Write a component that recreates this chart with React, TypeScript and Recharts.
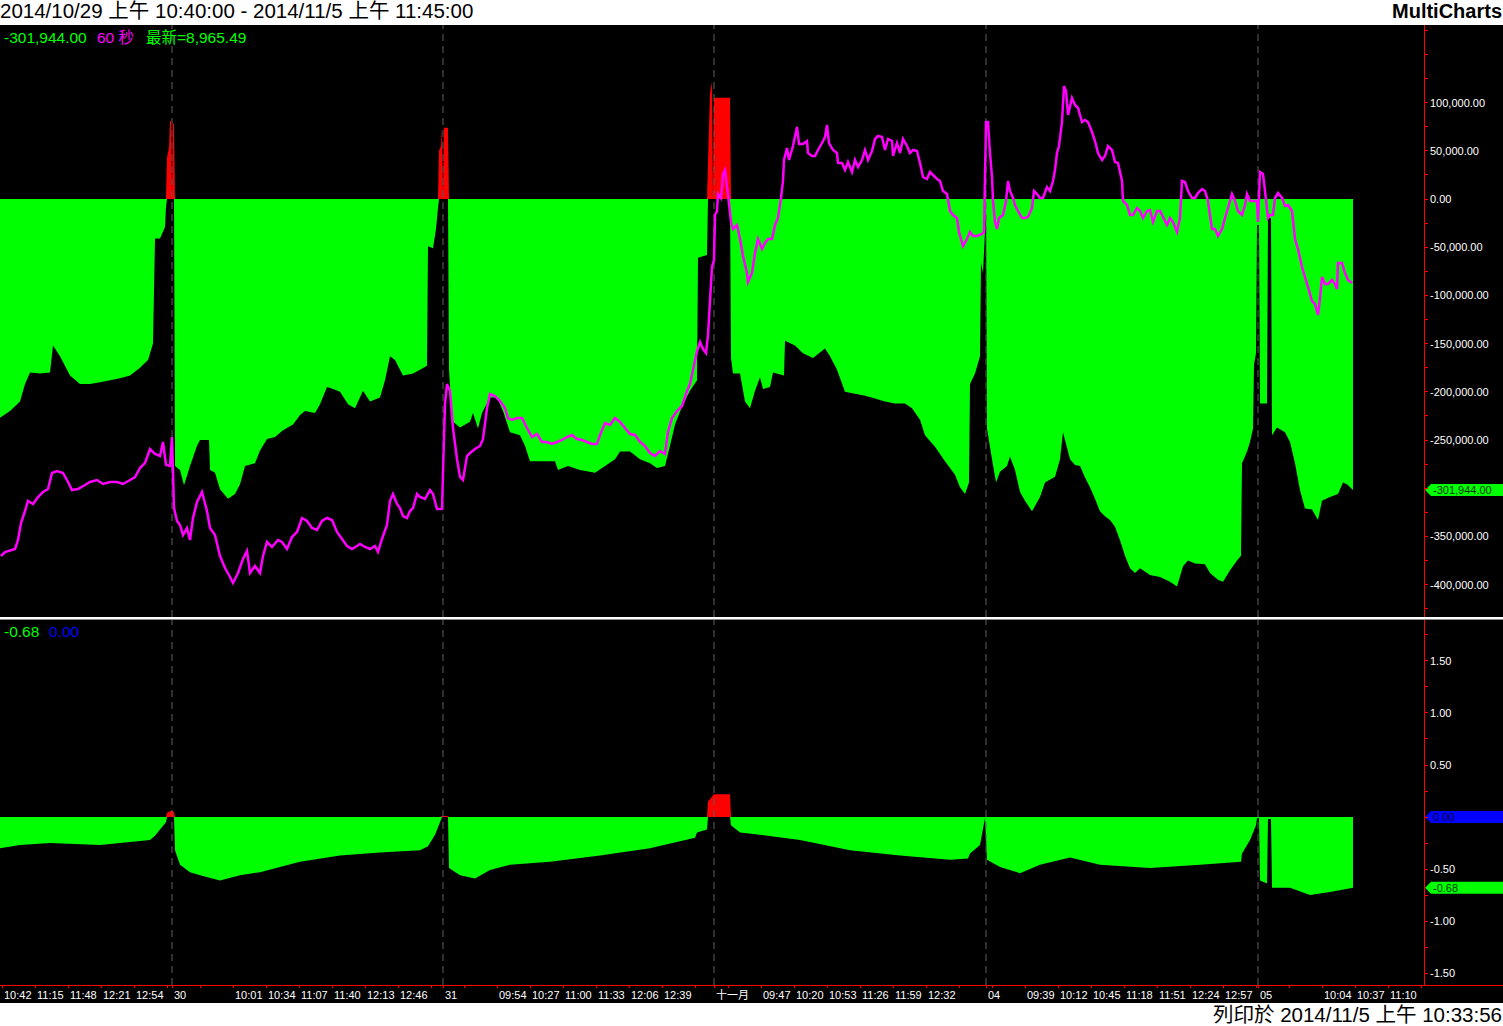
import { ComposedChart, Area, Line, XAxis, YAxis, ReferenceLine } from "recharts";

// bar = 1-minute bar number counted from 10/29 10:40 (session 09:00-13:30)
const flowSeries: [number, number][] = [
  [0, -227000], [10, -220000], [20, -210000], [25, -192000], [30, -180000], [40, -181000], [50, -180000],
  [53, -152000], [60, -163000], [70, -183000], [80, -192000], [90, -192000], [100, -190000], [110, -188000],
  [120, -186000], [130, -183000], [140, -175000], [148, -167000], [153, -150000], [155, -41000], [160, -41000],
  [165, -29000], [166, -8000], [167, 43000], [169, 53000], [170, 81000], [171, 81000], [172, 0], [173, 78000],
  [174, 78000], [175, -277000], [180, -281000], [184, -297000], [190, -277000], [197, -256000], [200, -250000],
  [209, -250000], [210, -281000], [215, -284000], [220, -301000], [228, -311000], [235, -306000], [240, -296000],
  [245, -277000], [255, -274000], [260, -261000], [267, -249000], [275, -247000], [283, -240000], [293, -234000],
  [300, -224000], [305, -220000], [315, -222000], [320, -213000], [327, -195000], [333, -197000], [340, -200000],
  [348, -213000], [355, -217000], [363, -199000], [370, -210000], [380, -206000], [385, -188000], [390, -163000],
  [395, -167000], [403, -183000], [413, -181000], [420, -177000], [427, -173000], [428, -49000], [433, -51000],
  [436, -31000], [438, -9000], [439, 50000], [441, 55000], [442, 75000], [443, 0], [444, 74000], [448, 74000],
  [449, -177000], [451, -213000], [453, -231000], [460, -237000], [470, -231000], [473, -222000], [478, -238000],
  [482, -222000], [490, -206000], [497, -206000], [503, -220000], [510, -242000], [520, -245000], [525, -256000],
  [530, -272000], [555, -272000], [558, -281000], [568, -277000], [580, -281000], [595, -284000], [605, -277000],
  [615, -270000], [620, -262000], [630, -262000], [640, -270000], [650, -274000], [657, -279000], [665, -277000],
  [670, -256000], [675, -234000], [683, -213000], [690, -199000], [697, -188000], [698, -61000], [707, -58000],
  [708, 37000], [710, 110000], [712, 121000], [713, 0], [714, 105000], [730, 105000], [731, -165000],
  [733, -181000], [740, -181000], [745, -210000], [750, -217000], [755, -199000], [760, -185000], [763, -197000],
  [770, -195000], [773, -180000], [784, -183000], [785, -147000], [795, -152000], [803, -160000], [813, -165000],
  [825, -155000], [830, -163000], [837, -177000], [845, -200000], [855, -202000], [865, -204000], [875, -207000],
  [885, -210000], [895, -212000], [905, -212000], [912, -217000], [920, -229000], [925, -245000], [935, -257000],
  [945, -272000], [955, -286000], [960, -299000], [965, -306000], [969, -294000], [970, -192000], [975, -181000],
  [980, -163000], [981, -66000], [983, -77000], [985, -34000], [986, -5000], [987, -238000], [992, -270000],
  [996, -294000], [1000, -283000], [1007, -277000], [1010, -267000], [1015, -281000], [1020, -304000],
  [1025, -313000], [1032, -324000], [1040, -309000], [1045, -294000], [1055, -288000], [1060, -270000],
  [1063, -242000], [1068, -262000], [1070, -270000], [1075, -276000], [1080, -277000], [1085, -289000],
  [1090, -299000], [1095, -311000], [1100, -324000], [1105, -329000], [1110, -333000], [1115, -340000],
  [1120, -354000], [1125, -370000], [1130, -383000], [1135, -388000], [1140, -383000], [1150, -390000],
  [1160, -392000], [1170, -397000], [1177, -402000], [1183, -381000], [1188, -375000], [1195, -378000],
  [1205, -379000], [1210, -388000], [1218, -395000], [1223, -397000], [1230, -385000], [1237, -375000],
  [1241, -370000], [1242, -274000], [1247, -262000], [1250, -252000], [1253, -238000], [1254, -172000],
  [1256, -160000], [1257, -27000], [1259, -27000], [1260, -212000], [1267, -212000], [1268, -20000],
  [1271, -20000], [1272, -245000], [1277, -237000], [1285, -242000], [1290, -252000], [1295, -274000],
  [1300, -302000], [1305, -321000], [1312, -322000], [1318, -333000], [1322, -313000], [1330, -309000],
  [1338, -306000], [1343, -294000], [1347, -296000], [1353, -301944],
];

const priceSeries: [number, number][] = [
  [1, 8829], [5, 8831], [15, 8832.5], [18, 8837], [21, 8845.5], [25, 8851.5], [28, 8856.5], [33, 8855],
  [38, 8858.5], [43, 8861], [48, 8862.5], [52, 8870.5], [57, 8871.5], [63, 8870.5], [68, 8866], [72, 8862],
  [78, 8862.5], [85, 8864.5], [90, 8866], [97, 8867], [103, 8865], [110, 8866], [117, 8866], [123, 8865],
  [130, 8867], [135, 8868.5], [140, 8873], [145, 8875.5], [150, 8882.5], [155, 8880], [160, 8879],
  [163, 8886], [166, 8874.5], [170, 8874], [172, 8888.5], [174, 8853], [177, 8846.5], [180, 8844.5],
  [183, 8839.5], [187, 8843], [190, 8837], [193, 8848], [197, 8856], [202, 8861], [207, 8851.5], [210, 8843],
  [215, 8839.5], [220, 8829], [225, 8823], [230, 8818.5], [233, 8815.5], [238, 8820.5], [243, 8827.5],
  [247, 8831.5], [250, 8820.5], [255, 8824], [260, 8820.5], [263, 8829], [267, 8836], [272, 8833.5],
  [278, 8837], [282, 8836], [287, 8832.5], [292, 8838.5], [297, 8841], [302, 8848], [307, 8846.5],
  [312, 8843], [317, 8842], [322, 8846.5], [327, 8848], [332, 8847], [337, 8841], [342, 8837.5], [347, 8834],
  [352, 8832.5], [357, 8834], [360, 8835], [365, 8833.5], [370, 8832.5], [375, 8834], [378, 8831],
  [382, 8837.5], [387, 8844.5], [390, 8856.5], [393, 8860], [397, 8855], [400, 8853], [403, 8849],
  [407, 8848], [410, 8851.5], [413, 8853], [417, 8860], [420, 8858.5], [425, 8857.5], [430, 8862],
  [433, 8860], [437, 8852.5], [442, 8852.5], [443, 8870.5], [445, 8905], [447, 8915], [450, 8911.5],
  [453, 8893], [457, 8877.5], [460, 8868.5], [463, 8867], [467, 8879], [470, 8880.5], [475, 8882.5],
  [480, 8884], [483, 8887.5], [487, 8903], [490, 8910], [495, 8909], [500, 8906.5], [505, 8903], [508, 8898],
  [512, 8897], [517, 8898], [522, 8898], [527, 8893], [532, 8888.5], [537, 8890], [542, 8886], [547, 8886],
  [552, 8885], [557, 8886], [562, 8887], [567, 8888.5], [572, 8889.5], [577, 8887.5], [582, 8887],
  [587, 8886], [592, 8885], [597, 8885], [600, 8889.5], [605, 8895.5], [610, 8894.5], [615, 8898],
  [620, 8896], [625, 8893], [630, 8890], [635, 8889.5], [640, 8886], [645, 8884], [650, 8880.5], [655, 8879],
  [660, 8881.5], [665, 8880], [668, 8891], [672, 8898], [677, 8901.5], [682, 8904], [687, 8911.5],
  [690, 8915], [693, 8922], [697, 8931.5], [700, 8936], [703, 8932.5], [706, 8930.5], [708, 8939.5],
  [710, 8956.5], [712, 8973.5], [714, 8977], [715, 8999.5], [717, 9001.5], [718, 9010], [721, 9008],
  [723, 9020], [725, 9022], [727, 9013.5], [728, 9010], [731, 8996], [733, 8992.5], [737, 8994.5],
  [740, 8987.5], [743, 8979], [747, 8970.5], [748, 8966], [752, 8970.5], [755, 8980.5], [758, 8987.5],
  [762, 8982.5], [765, 8985.5], [768, 8987.5], [772, 8987.5], [775, 8994.5], [778, 8998], [781, 9008],
  [783, 9016.5], [784, 9027], [787, 9033], [789, 9027], [793, 9034], [797, 9043.5], [799, 9035], [803, 9035],
  [807, 9036.5], [808, 9030.5], [812, 9029], [815, 9029], [818, 9032], [822, 9035.5], [825, 9038.5],
  [827, 9044.5], [829, 9035.5], [833, 9032], [837, 9030.5], [838, 9025.5], [842, 9025.5], [845, 9022],
  [848, 9026], [852, 9021], [855, 9027], [858, 9023.5], [862, 9027], [865, 9032], [868, 9027], [872, 9031.5],
  [875, 9037.5], [878, 9039], [882, 9038.5], [885, 9032], [888, 9037.5], [892, 9036.5], [893, 9029],
  [897, 9035.5], [900, 9030.5], [903, 9037.5], [907, 9034], [910, 9030.5], [913, 9032], [917, 9031.5],
  [920, 9025.5], [923, 9018.5], [927, 9017.5], [930, 9021], [933, 9019.5], [937, 9017.5], [940, 9016.5],
  [943, 9011.5], [947, 9010], [950, 9001.5], [953, 8999.5], [957, 8998], [959, 8991], [963, 8984],
  [967, 8987.5], [970, 8991], [973, 8989], [977, 8989], [982, 8990], [984, 8991], [986, 9046], [988, 9046],
  [990, 9030.5], [992, 9018.5], [993, 9006.5], [995, 8996], [997, 8992.5], [999, 8998], [1003, 8999.5],
  [1006, 9006.5], [1008, 9016.5], [1010, 9011.5], [1013, 9008], [1015, 9004.5], [1018, 9001.5], [1022, 8998],
  [1025, 8998], [1028, 8998.5], [1032, 9003], [1034, 9011.5], [1037, 9010], [1040, 9008], [1043, 9008],
  [1047, 9013.5], [1050, 9011.5], [1053, 9016.5], [1055, 9022], [1057, 9030.5], [1059, 9034], [1062, 9046],
  [1064, 9064], [1066, 9061.5], [1068, 9049.5], [1072, 9058], [1075, 9054.5], [1078, 9053], [1082, 9046],
  [1085, 9047], [1088, 9046], [1092, 9041], [1095, 9036.5], [1098, 9030.5], [1102, 9027], [1105, 9029],
  [1108, 9034], [1112, 9032], [1115, 9026], [1118, 9025.5], [1122, 9016.5], [1123, 9006.5], [1127, 9004.5],
  [1130, 8999.5], [1133, 8999.5], [1137, 9003], [1140, 9001.5], [1143, 8998], [1147, 9001.5], [1150, 9002],
  [1153, 8996], [1157, 9001.5], [1160, 9001.5], [1163, 8998.5], [1167, 8994.5], [1170, 8998], [1173, 8996],
  [1177, 8991], [1180, 8998], [1182, 9016.5], [1185, 9016], [1188, 9011.5], [1192, 9008], [1195, 9008],
  [1198, 9010.5], [1202, 9012.5], [1205, 9011.5], [1208, 9006.5], [1212, 8992.5], [1215, 8992.5],
  [1218, 8989], [1222, 8992.5], [1225, 8998], [1228, 9003], [1232, 9010], [1235, 9006.5], [1238, 9001.5],
  [1242, 8999.5], [1245, 9004.5], [1247, 9010], [1250, 9006.5], [1253, 9006.5], [1257, 9006.5], [1258, 8996],
  [1260, 9021], [1263, 9020], [1265, 9011.5], [1268, 8998], [1270, 8999.5], [1273, 8999.5], [1275, 9008],
  [1278, 9010.5], [1282, 9008], [1285, 9004], [1288, 9004.5], [1292, 9001.5], [1295, 8987.5], [1298, 8982.5],
  [1302, 8973.5], [1305, 8968.5], [1308, 8963.5], [1312, 8956.5], [1315, 8955], [1318, 8949.5], [1320, 8958],
  [1322, 8968.5], [1325, 8965], [1328, 8965], [1332, 8967], [1335, 8965], [1337, 8962.5], [1338, 8975.5],
  [1342, 8975.5], [1345, 8970.5], [1348, 8967], [1352, 8965.49],
];

const ratioSeries: [number, number][] = [
  [0, -0.3], [20, -0.27], [50, -0.25], [100, -0.27], [150, -0.22], [155, -0.18], [160, -0.12], [166, -0.05],
  [167, 0.04], [171, 0.06], [174, 0.05], [175, -0.32], [180, -0.46], [190, -0.53], [200, -0.56], [220, -0.61],
  [240, -0.56], [260, -0.53], [300, -0.43], [340, -0.37], [380, -0.34], [420, -0.32], [428, -0.28],
  [435, -0.17], [440, -0.05], [442, 0.01], [448, 0.01], [449, -0.49], [460, -0.56], [475, -0.59], [490, -0.51],
  [510, -0.46], [550, -0.43], [600, -0.37], [650, -0.3], [695, -0.2], [697, -0.15], [707, -0.12], [708, 0.15],
  [714, 0.22], [730, 0.22], [731, -0.08], [740, -0.15], [760, -0.17], [800, -0.22], [850, -0.32], [900, -0.37],
  [950, -0.41], [968, -0.4], [970, -0.35], [980, -0.27], [985, -0.01], [987, -0.41], [1000, -0.48],
  [1020, -0.54], [1040, -0.46], [1070, -0.39], [1100, -0.46], [1150, -0.49], [1200, -0.46], [1241, -0.43],
  [1242, -0.35], [1250, -0.22], [1256, -0.08], [1257, -0.01], [1259, -0.01], [1260, -0.61], [1267, -0.64],
  [1268, -0.02], [1271, -0.02], [1272, -0.68], [1290, -0.68], [1310, -0.75], [1330, -0.72], [1353, -0.68],
];

const sessionOpenBars = [172, 443, 714, 986, 1258];
const sessionLabels = ["30", "31", "十一月", "04", "05"];

// time ticks every 33 bars starting at bar 2
const timeTickLabels = [
  "10:42", "11:15", "11:48", "12:21", "12:54", "", "", "10:01", "10:34", "11:07", "11:40", "12:13", "12:46", "",
  "", "09:54", "10:27", "11:00", "11:33", "12:06", "12:39", "", "", "09:47", "10:20", "10:53", "11:26", "11:59",
  "12:32", "", "", "09:39", "10:12", "10:45", "11:18", "11:51", "12:24", "12:57", "", "", "10:04", "10:37",
  "11:10", "",
];

const flowTickLabels = [100000, 50000, 0, -50000, -100000, -150000, -200000, -250000, -350000, -400000];
const ratioTickLabels = [1.5, 1, 0.5, -0.5, -1, -1.5];

const LAST_FLOW = -301944;
const LAST_RATIO = -0.68;

const FONT = '"Liberation Sans", Arial, "Noto Sans CJK TC", sans-serif';
const GREEN = "#00ff00";
const RED = "#ff0000";
const MAGENTA = "#ff00ff";
const BLUE = "#0000ff";
const DASH = "#5f5f5f";

type Row = { bar: number; flowNeg?: number; flowPos?: number; price?: number; ratioNeg?: number; ratioPos?: number };

const topMap = new Map<number, Row>();
const rowFor = (m: Map<number, Row>, bar: number) => {
  if (!m.has(bar)) m.set(bar, { bar });
  return m.get(bar)!;
};
flowSeries.forEach(([bar, v]) => {
  const r = rowFor(topMap, bar);
  r.flowNeg = Math.min(v, 0);
  r.flowPos = Math.max(v, 0);
});
priceSeries.forEach(([bar, p]) => {
  rowFor(topMap, bar).price = p;
});
const topData = [...topMap.values()].sort((a, b) => a.bar - b.bar);

const bottomData: Row[] = ratioSeries.map(([bar, v]) => ({
  bar,
  ratioNeg: Math.min(v, 0),
  ratioPos: Math.max(v, 0),
}));

const timeTicks = timeTickLabels.map((_, i) => 2 + 33 * i);
const xTickText = new Map<number, string>();
timeTicks.forEach((t, i) => xTickText.set(t, timeTickLabels[i]));
sessionOpenBars.forEach((b, i) => xTickText.set(b, sessionLabels[i]));
const xTicks = [...xTickText.keys()].sort((a, b) => a - b);

const flowAxisTicks: number[] = [];
for (let v = 175000; v >= -425000; v -= 25000) flowAxisTicks.push(v);
const ratioAxisTicks: number[] = [];
for (let i = 7; i >= -6; i--) ratioAxisTicks.push(i * 0.25);

const XTick = (p: any) => (
  <text x={p.x + 2} y={p.y + 9} fill="#ffffff" fontSize={11} fontFamily={FONT} textAnchor="start">
    {xTickText.get(p.payload.value) ?? ""}
  </text>
);

const FlowTick = (p: any) => {
  const v = p.payload.value;
  if (!flowTickLabels.includes(v)) return <g />;
  return (
    <text x={p.x} y={p.y + 4} fill="#ffffff" fontSize={11} fontFamily={FONT} textAnchor="start">
      {v.toLocaleString("en-US", { minimumFractionDigits: 2, maximumFractionDigits: 2 })}
    </text>
  );
};

const RatioTick = (p: any) => {
  const v = p.payload.value;
  if (!ratioTickLabels.some((t) => Math.abs(t - v) < 1e-6)) return <g />;
  return (
    <text x={p.x} y={p.y + 4} fill="#ffffff" fontSize={11} fontFamily={FONT} textAnchor="start">
      {v.toFixed(2)}
    </text>
  );
};

function AxisMarker(props: any) {
  const { viewBox, text, fill, textColor } = props;
  if (!viewBox) return null;
  const x0 = viewBox.x + viewBox.width + 1;
  const yc = viewBox.y;
  const pts = `${x0},${yc} ${x0 + 6},${yc - 6} ${x0 + 80},${yc - 6} ${x0 + 80},${yc + 6} ${x0 + 6},${yc + 6}`;
  return (
    <g>
      <polygon points={pts} fill={fill} />
      <text x={x0 + 8} y={yc + 4} fontSize={11} fontFamily={FONT} fill={textColor}>
        {text}
      </text>
    </g>
  );
}

const abs = (left: number, top: number, extra: any = {}) => ({ position: "absolute" as const, left, top, ...extra });

export default function App() {
  return (
    <div style={abs(0, 0, { width: 1503, height: 1026, background: "#ffffff", overflow: "hidden", fontFamily: FONT })}>
      {/* title bar */}
      <div style={abs(0, 0, { fontSize: 20.5, lineHeight: "21px", color: "#000", whiteSpace: "nowrap" })}>
        2014/10/29 上午 10:40:00 - 2014/11/5 上午 11:45:00
      </div>
      <div style={abs(0, 0, { width: 1502, textAlign: "right", fontSize: 20, fontWeight: 700, lineHeight: "23px", color: "#000" })}>
        MultiCharts
      </div>

      <div style={abs(0, 25, { width: 1503, height: 978, background: "#000000" })} />

      {/* upper pane */}
      <div style={abs(0, 25)}>
        <ComposedChart width={1503} height={592} data={topData} margin={{ top: 0, right: 0, bottom: 0, left: 0 }}>
          <XAxis dataKey="bar" type="number" domain={[0, 1424]} allowDataOverflow hide />
          <YAxis
            yAxisId="flow"
            orientation="right"
            width={79}
            type="number"
            domain={[-433600, 180500]}
            allowDataOverflow
            ticks={flowAxisTicks}
            interval={0}
            axisLine={{ stroke: RED, strokeWidth: 1, shapeRendering: "crispEdges" }}
            tickLine={{ stroke: RED, shapeRendering: "crispEdges" }}
            tickSize={4}
            tickMargin={2}
            tick={<FlowTick />}
          />
          <YAxis yAxisId="price" type="number" domain={[8798.5, 9094.5]} allowDataOverflow hide />
          {sessionOpenBars.map((b) => (
            <ReferenceLine key={b} x={b} yAxisId="flow" stroke={DASH} strokeDasharray="7 5" />
          ))}
          <Area
            yAxisId="flow"
            dataKey="flowNeg"
            type="linear"
            baseValue={0}
            stroke="none"
            fill={GREEN}
            fillOpacity={1}
            connectNulls
            dot={false}
            activeDot={false}
            isAnimationActive={false}
          />
          <Area
            yAxisId="flow"
            dataKey="flowPos"
            type="linear"
            baseValue={0}
            stroke="none"
            fill={RED}
            fillOpacity={1}
            connectNulls
            dot={false}
            activeDot={false}
            isAnimationActive={false}
          />
          <Line
            yAxisId="price"
            dataKey="price"
            type="linear"
            stroke={MAGENTA}
            strokeWidth={2.5}
            connectNulls
            dot={false}
            activeDot={false}
            isAnimationActive={false}
          />
          <ReferenceLine
            yAxisId="flow"
            y={LAST_FLOW}
            stroke="none"
            ifOverflow="visible"
            label={<AxisMarker text="-301,944.00" fill={GREEN} textColor="#003300" />}
          />
        </ComposedChart>
      </div>

      {/* pane separator */}
      <div style={abs(0, 617, { width: 1503, height: 2, background: "#ffffff" })} />
      <div style={abs(0, 619, { width: 1503, height: 1, background: "#8a8a8a" })} />

      {/* lower pane */}
      <div style={abs(0, 620)}>
        <ComposedChart width={1503} height={383} data={bottomData} margin={{ top: 0, right: 0, bottom: 0, left: 0 }}>
          <XAxis
            dataKey="bar"
            type="number"
            domain={[0, 1424]}
            allowDataOverflow
            ticks={xTicks}
            interval={0}
            height={18}
            axisLine={{ stroke: RED, shapeRendering: "crispEdges" }}
            tickLine={{ stroke: RED, shapeRendering: "crispEdges" }}
            tickSize={3}
            tickMargin={2}
            tick={<XTick />}
          />
          <YAxis
            yAxisId="ratio"
            orientation="right"
            width={79}
            type="number"
            domain={[-1.615, 1.894]}
            allowDataOverflow
            ticks={ratioAxisTicks}
            interval={0}
            axisLine={{ stroke: RED, strokeWidth: 1, shapeRendering: "crispEdges" }}
            tickLine={{ stroke: RED, shapeRendering: "crispEdges" }}
            tickSize={4}
            tickMargin={2}
            tick={<RatioTick />}
          />
          {sessionOpenBars.map((b) => (
            <ReferenceLine key={b} x={b} yAxisId="ratio" stroke={DASH} strokeDasharray="7 5" />
          ))}
          <Area
            yAxisId="ratio"
            dataKey="ratioNeg"
            type="linear"
            baseValue={0}
            stroke="none"
            fill={GREEN}
            fillOpacity={1}
            connectNulls
            dot={false}
            activeDot={false}
            isAnimationActive={false}
          />
          <Area
            yAxisId="ratio"
            dataKey="ratioPos"
            type="linear"
            baseValue={0}
            stroke="none"
            fill={RED}
            fillOpacity={1}
            connectNulls
            dot={false}
            activeDot={false}
            isAnimationActive={false}
          />
          <ReferenceLine
            yAxisId="ratio"
            y={0}
            stroke="none"
            ifOverflow="visible"
            label={<AxisMarker text="0.00" fill={BLUE} textColor="#000033" />}
          />
          <ReferenceLine
            yAxisId="ratio"
            y={LAST_RATIO}
            stroke="none"
            ifOverflow="visible"
            label={<AxisMarker text="-0.68" fill={GREEN} textColor="#003300" />}
          />
        </ComposedChart>
      </div>
      <div style={abs(1424, 985, { width: 79, height: 1, background: RED })} />

      {/* status texts */}
      <div style={abs(4, 29, { fontSize: 15.5, lineHeight: "18px", color: GREEN, whiteSpace: "nowrap" })}>-301,944.00</div>
      <div style={abs(97, 29, { fontSize: 15.5, lineHeight: "18px", color: MAGENTA, whiteSpace: "nowrap" })}>60 秒</div>
      <div style={abs(146, 29, { fontSize: 15.5, lineHeight: "18px", color: GREEN, whiteSpace: "nowrap" })}>最新=8,965.49</div>
      <div style={abs(4, 623, { fontSize: 15.5, lineHeight: "18px", color: GREEN, whiteSpace: "nowrap" })}>-0.68</div>
      <div style={abs(49, 623, { fontSize: 15.5, lineHeight: "18px", color: BLUE, whiteSpace: "nowrap" })}>0.00</div>

      {/* print stamp */}
      <div style={abs(0, 1003, { width: 1502, textAlign: "right", fontSize: 20.5, lineHeight: "23px", color: "#000", whiteSpace: "nowrap" })}>
        列印於 2014/11/5 上午 10:33:56
      </div>
    </div>
  );
}
